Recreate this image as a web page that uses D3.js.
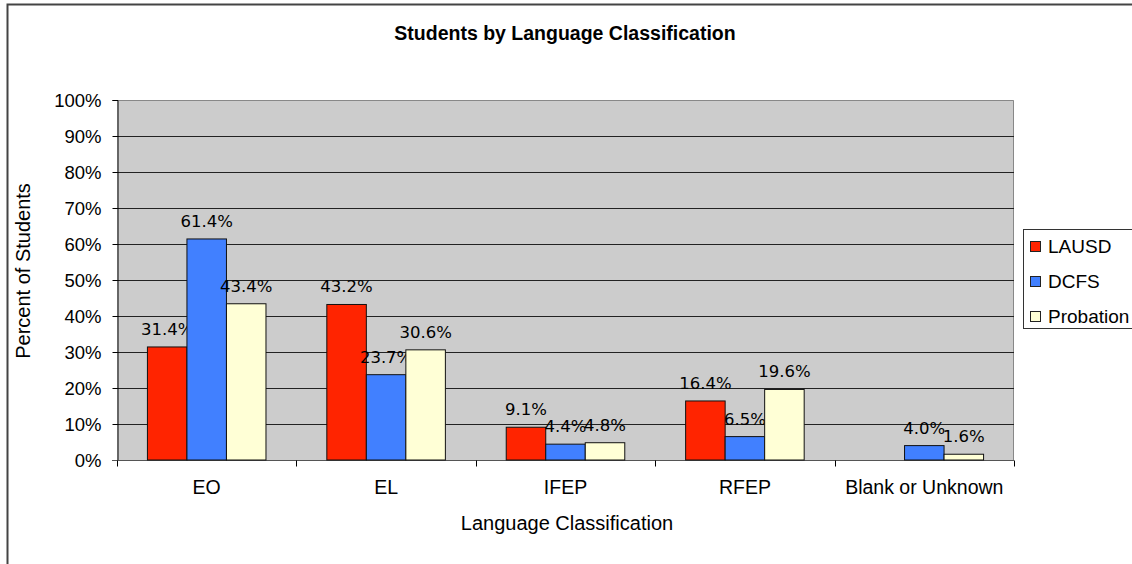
<!DOCTYPE html>
<html>
<head>
<meta charset="utf-8">
<script src="https://cdn.jsdelivr.net/npm/d3@7"></script>
<style>
  body { margin: 0; background: #fff; }
  svg { display: block; font-family: "Liberation Sans", Arial, sans-serif; }
</style>
</head>
<body>
<div id="chart"></div>
<script>
const categories = ["EO", "EL", "IFEP", "RFEP", "Blank or Unknown"];
const seriesNames = ["LAUSD", "DCFS", "Probation"];
const lausd = [31.4, 43.2, 9.1, 16.4, null];
const dcfs = [61.4, 23.7, 4.4, 6.5, 4.0];
const probation = [43.4, 30.6, 4.8, 19.6, 1.6];
const yTicks = [0, 10, 20, 30, 40, 50, 60, 70, 80, 90, 100];
const colors = ["#ff2400", "#4180ff", "#ffffd6"];

const seriesValues = [lausd, dcfs, probation];

const width = 1132;
const height = 564;
const margin = { top: 100, right: 118, bottom: 104, left: 117 };

const svg = d3
  .select("#chart")
  .append("svg")
  .attr("width", width)
  .attr("height", height);

// outer chart frame (only top and left edges visible)
svg.append("path")
  .attr("d", `M7.5,${height} V4.5 H${width}`)
  .attr("fill", "none")
  .attr("stroke", "#444")
  .attr("stroke-width", 2);

const x0 = d3.scaleBand()
  .domain(categories)
  .range([margin.left, width - margin.right]);

const x1 = d3.scaleBand()
  .domain(seriesNames)
  .range([0, x0.bandwidth()])
  .paddingOuter(0.77);

const y = d3.scaleLinear()
  .domain([0, 100])
  .range([height - margin.bottom, margin.top]);

// plot area
svg.append("rect")
  .attr("x", margin.left)
  .attr("y", margin.top)
  .attr("width", width - margin.left - margin.right)
  .attr("height", y(0) - y(100))
  .attr("fill", "#cccccc");

svg.append("path")
  .attr("d", `M${margin.left},${y(100) + 0.5} H${width - margin.right - 0.5} V${y(0)}`)
  .attr("fill", "none")
  .attr("stroke", "#888")
  .attr("stroke-width", 1);

// gridlines
svg.append("g")
  .selectAll("line")
  .data(yTicks.filter((d) => d > 0 && d < 100))
  .join("line")
  .attr("x1", margin.left)
  .attr("x2", width - margin.right)
  .attr("y1", (d) => Math.round(y(d)) + 0.5)
  .attr("y2", (d) => Math.round(y(d)) + 0.5)
  .attr("stroke", "#222");

// y axis
const yAxis = svg.append("g")
  .attr("transform", `translate(${margin.left + 0.5},0)`)
  .call(d3.axisLeft(y).tickValues(yTicks).tickSize(5).tickFormat((d) => d + "%"));
yAxis.select(".domain").attr("stroke", "#000");
yAxis.selectAll(".tick line").attr("stroke", "#000");
yAxis.selectAll("text")
  .attr("font-size", 18.5)
  .attr("font-family", "Liberation Sans, Arial, sans-serif")
  .attr("fill", "#000")
  .attr("x", -16)
  .attr("dy", "0.36em");

// x axis with ticks at category boundaries
const xAxis = svg.append("g")
  .attr("transform", `translate(0,${y(0) + 0.5})`);
xAxis.append("line")
  .attr("x1", margin.left - 5)
  .attr("x2", width - margin.right)
  .attr("stroke", "#555");
xAxis.selectAll(".bt")
  .data(categories.concat([null]))
  .join("line")
  .attr("class", "bt")
  .attr("x1", (d, i) => Math.round(margin.left + i * x0.step()) + 0.5)
  .attr("x2", (d, i) => Math.round(margin.left + i * x0.step()) + 0.5)
  .attr("y1", 0)
  .attr("y2", 6)
  .attr("stroke", "#000");
xAxis.selectAll("text")
  .data(categories)
  .join("text")
  .attr("x", (d) => x0(d) + x0.bandwidth() / 2)
  .attr("y", 33)
  .attr("text-anchor", "middle")
  .attr("font-size", 19.5)
  .attr("fill", "#000")
  .text((d) => d);

// bars
const groups = svg.append("g")
  .selectAll("g")
  .data(categories)
  .join("g")
  .attr("transform", (d) => `translate(${x0(d)},0)`);

const cells = groups.selectAll("g")
  .data((d, ci) => seriesNames.map((s, si) => ({ s, si, v: seriesValues[si][ci] })))
  .join("g");

cells.filter((d) => d.v != null)
  .append("rect")
  .attr("x", (d) => x1(d.s))
  .attr("y", (d) => y(d.v))
  .attr("width", x1.bandwidth())
  .attr("height", (d) => y(0) - y(d.v))
  .attr("fill", (d) => colors[d.si])
  .attr("stroke", "#111")
  .attr("stroke-width", 1);

cells.filter((d) => d.v != null)
  .append("text")
  .attr("x", (d) => x1(d.s) + x1.bandwidth() / 2)
  .attr("y", (d) => y(d.v) - 12)
  .attr("text-anchor", "middle")
  .attr("font-family", "DejaVu Sans, Verdana, sans-serif")
  .attr("font-size", 16.5)
  .attr("fill", "#000")
  .text((d) => d.v.toFixed(1) + "%");

// title
svg.append("text")
  .attr("x", 565)
  .attr("y", 40)
  .attr("text-anchor", "middle")
  .attr("font-size", 19.5)
  .attr("font-weight", "bold")
  .attr("fill", "#000")
  .text("Students by Language Classification");

// axis titles
svg.append("text")
  .attr("x", 567)
  .attr("y", 530)
  .attr("text-anchor", "middle")
  .attr("font-size", 20)
  .attr("fill", "#000")
  .text("Language Classification");

svg.append("text")
  .attr("transform", "translate(30,271) rotate(-90)")
  .attr("text-anchor", "middle")
  .attr("font-size", 20)
  .attr("fill", "#000")
  .text("Percent of Students");

// legend
const legend = svg.append("g").attr("transform", "translate(1023,229)");
legend.append("rect")
  .attr("x", 0.5)
  .attr("y", 0.5)
  .attr("width", 130)
  .attr("height", 99)
  .attr("fill", "#fff")
  .attr("stroke", "#333");

const items = legend.selectAll(".item")
  .data(seriesNames)
  .join("g")
  .attr("class", "item")
  .attr("transform", (d, i) => `translate(0,${17 + i * 35})`);

items.append("rect")
  .attr("x", 7.5)
  .attr("y", -4.5)
  .attr("width", 10)
  .attr("height", 10)
  .attr("fill", (d, i) => colors[i])
  .attr("stroke", "#222");

items.append("text")
  .attr("x", 25)
  .attr("y", 0)
  .attr("dy", "0.36em")
  .attr("font-size", 19)
  .attr("fill", "#000")
  .text((d) => d);
</script>
</body>
</html>
